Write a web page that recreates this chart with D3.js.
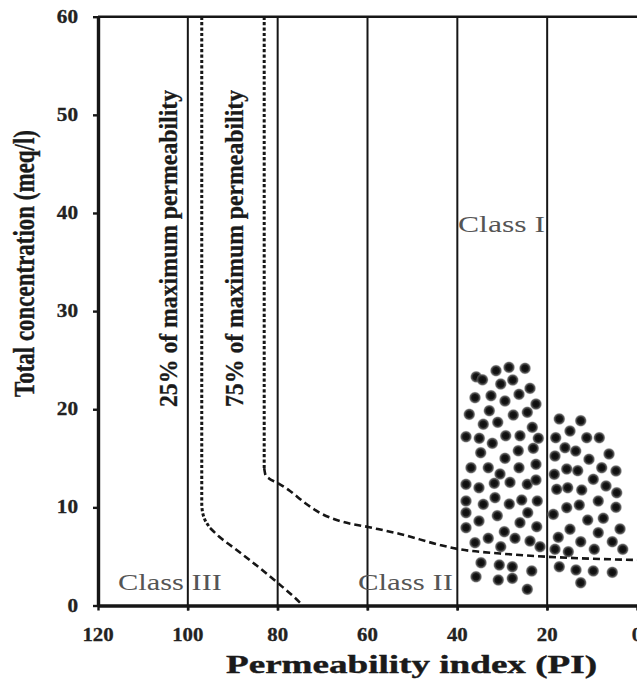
<!DOCTYPE html>
<html>
<head>
<meta charset="utf-8">
<script src="https://cdn.jsdelivr.net/npm/d3@7"></script>
<style>
  html, body { margin: 0; padding: 0; background: #fff; }
  svg { display: block; }
</style>
</head>
<body>
<svg id="chart" width="637" height="680"></svg>
<script>
// ---------- data ----------
const xTicks = [120, 100, 80, 60, 40, 20, 0];
const yTicks = [0, 10, 20, 30, 40, 50, 60];
const classBoundaries = [100, 80, 60, 40, 20];

const xTitle = "Permeability index (PI)";
const yTitle = "Total concentration (meq/l)";
const label25 = "25% of maximum permeability";
const label75 = "75% of maximum permeability";
const classNames = ["Class I", "Class II", "Class III"];

// 25% of maximum permeability curve: dotted vertical part, then dashed part  [PI, TC]
const curve25Dotted = [[96.9, 60], [96.9, 10.45], [96.73, 9.53], [96.17, 8.71], [95.06, 7.90]];
const curve25Dashed = [[95.06, 7.90], [93.06, 7.03], [89.72, 5.86], [86.38, 4.69], [83.04, 3.46],
  [79.70, 2.19], [76.36, 0.87], [74.4, 0]];
// 75% of maximum permeability curve
const curve75Dotted = [[83.0, 60], [83.0, 14.0]];
const curve75Dashed = [[83.0, 14.0], [82.71, 13.30], [81.93, 12.94], [80.15, 12.53], [77.25, 11.67],
  [73.91, 10.45], [70.57, 9.43], [66.12, 8.61], [59.88, 8.0], [52.76, 7.29], [43.86, 6.17],
  [39.85, 5.76], [30.5, 5.30], [20.04, 4.97], [8.24, 4.74], [0, 4.64]];

// Sample points: permeability index (PI) and total concentration (meq/l)
const samplePI = [
  35.8, 34.4, 31.39, 28.50, 24.93, 30.34, 27.67, 23.82, 36.07, 32.50, 29.39, 26.27, 22.49,
  37.34, 32.88, 27.54, 24.42, 34.22, 31.01, 23.31, 38.07, 35.11, 32.21, 29.23, 26.05, 21.97,
  34.80, 26.43, 23.09, 29.39, 36.96, 33.11, 26.27, 22.49, 30.50, 38.07, 35.18, 31.77, 28.27,
  24.42, 22.49, 38.07, 34.22, 31.61, 28.43, 25.67, 22.20, 38.07, 31.10, 24.33, 38.07, 35.18,
  26.05, 22.33, 29.54, 33.11, 27.16, 36.07, 23.82, 30.34, 21.60, 34.73, 30.66, 27.76, 23.44,
  35.84, 30.88, 27.76, 24.42,
  17.30, 12.53, 14.92, 18.10, 11.20, 8.39, 16.03, 13.65, 18.26, 10.69, 6.23, 15.65, 13.20,
  7.86, 18.41, 4.68, 9.73, 17.88, 15.43, 12.31, 6.90, 4.52, 15.65, 12.85, 8.62, 4.68, 18.63,
  10.98, 7.50, 14.92, 8.62, 3.78, 17.52, 12.53, 5.50, 18.26, 15.29, 9.51, 3.18, 17.30, 13.58,
  9.73, 5.50, 12.53
];
const sampleTC = [
  23.3, 23.0, 23.93, 24.27, 24.17, 22.57, 22.98, 22.13, 21.18, 21.38, 20.84, 21.52, 20.53,
  19.48, 19.85, 19.41, 19.69, 18.47, 18.67, 18.16, 17.20, 17.04, 16.53, 17.30, 17.30, 17.04,
  15.57, 15.77, 16.02, 15.00, 14.04, 14.04, 14.04, 14.39, 13.40, 12.35, 12.00, 12.45, 12.55,
  12.35, 12.79, 10.65, 10.31, 10.99, 10.34, 10.75, 10.65, 9.46, 9.15, 9.46, 7.93, 8.61,
  8.44, 8.03, 7.52, 6.85, 6.85, 6.40, 6.57, 5.99, 5.99, 4.36, 4.13, 3.95, 3.52,
  2.93, 2.60, 2.77, 1.65,
  19.01, 18.83, 17.78, 17.10, 17.10, 17.10, 16.08, 15.74, 15.23, 14.90, 15.44, 13.91, 13.74,
  14.04, 13.37, 13.71, 12.86, 11.84, 12.00, 11.77, 12.18, 11.49, 9.97, 10.24, 10.65, 10.01, 9.29,
  8.71, 8.89, 7.77, 7.42, 7.80, 6.95, 6.50, 6.50, 5.73, 5.48, 5.73, 5.73, 3.95, 3.62,
  3.52, 3.38, 2.32
];

// ---------- drawing ----------
const svg = d3.select("#chart");
const ink = "#161616";
const serif = "'Times New Roman', 'Liberation Serif', Times, serif";

const x = d3.scaleLinear().domain([120, 0]).range([98, 637]);
const y = d3.scaleLinear().domain([0, 60]).range([605.5, 16.7]);

// gradient for blurred dots
const defs = svg.append("defs");
const grad = defs.append("radialGradient").attr("id", "dotGrad");
grad.append("stop").attr("offset", "0%").attr("stop-color", "#0a0a0a");
grad.append("stop").attr("offset", "50%").attr("stop-color", "#171717");
grad.append("stop").attr("offset", "78%").attr("stop-color", "#4a4a4a").attr("stop-opacity", 0.85);
grad.append("stop").attr("offset", "100%").attr("stop-color", "#bbb").attr("stop-opacity", 0);

// class boundary vertical lines
svg.append("g").selectAll("line").data(classBoundaries).join("line")
  .attr("x1", d => x(d)).attr("x2", d => x(d))
  .attr("y1", y(60)).attr("y2", y(0) + 5)
  .attr("stroke", ink).attr("stroke-width", 2);

// top border
svg.append("line")
  .attr("x1", x(120)).attr("x2", x(0)).attr("y1", y(60)).attr("y2", y(60))
  .attr("stroke", ink).attr("stroke-width", 2.6);

// sample dots
svg.append("g").selectAll("circle").data(samplePI.map((p, i) => [p, sampleTC[i]])).join("circle")
  .attr("cx", d => x(d[0])).attr("cy", d => y(d[1]))
  .attr("r", 6.4).attr("fill", "url(#dotGrad)");

// permeability curves
const lineY = d3.line().x(d => x(d[0])).y(d => y(d[1])).curve(d3.curveMonotoneY);
const lineX = d3.line().x(d => x(d[0])).y(d => y(d[1])).curve(d3.curveMonotoneX);
[curve25Dotted, curve75Dotted].forEach(c => {
  svg.append("path").attr("d", lineY(c)).attr("fill", "none")
    .attr("stroke", ink).attr("stroke-width", 3).attr("stroke-dasharray", "3.2,2.2");
});
[curve25Dashed, curve75Dashed].forEach(c => {
  svg.append("path").attr("d", lineX(c)).attr("fill", "none")
    .attr("stroke", ink).attr("stroke-width", 2.6).attr("stroke-dasharray", "7,4");
});

// axes
const xAxis = svg.append("g").attr("transform", `translate(0,${y(0)})`)
  .call(d3.axisBottom(x).tickValues(xTicks).tickSize(5).tickSizeOuter(0).tickFormat(""));
const yAxis = svg.append("g").attr("transform", `translate(${x(120)},0)`)
  .call(d3.axisLeft(y).tickValues(yTicks).tickSize(5).tickSizeOuter(0).tickFormat(""));
[xAxis, yAxis].forEach(g => {
  g.select(".domain").attr("stroke", ink).attr("stroke-width", 3.4);
  g.selectAll(".tick line").attr("stroke", ink).attr("stroke-width", 2.4);
});

// tick labels
svg.append("g").selectAll("text").data(xTicks).join("text")
  .attr("x", d => x(d)).attr("y", 641)
  .attr("text-anchor", "middle")
  .attr("font-family", serif).attr("font-weight", "bold").attr("font-size", 18)
  .attr("fill", "#222").attr("stroke", "#222").attr("stroke-width", 0.3)
  .attr("textLength", d => String(d).length * 10.4).attr("lengthAdjust", "spacingAndGlyphs")
  .text(d => d);
svg.append("g").selectAll("text").data(yTicks).join("text")
  .attr("x", 78).attr("y", d => y(d) + 6)
  .attr("text-anchor", "end")
  .attr("font-family", serif).attr("font-weight", "bold").attr("font-size", 18)
  .attr("fill", "#222").attr("stroke", "#222").attr("stroke-width", 0.3)
  .attr("textLength", d => String(d).length * 10.6).attr("lengthAdjust", "spacingAndGlyphs")
  .text(d => d);

// axis titles
svg.append("text")
  .attr("x", 226).attr("y", 673)
  .attr("font-family", serif).attr("font-weight", "bold").attr("font-size", 25)
  .attr("fill", "#1a1a1a").attr("stroke", "#1a1a1a").attr("stroke-width", 0.4)
  .attr("textLength", 371).attr("lengthAdjust", "spacingAndGlyphs")
  .text(xTitle);
svg.append("text")
  .attr("transform", "translate(34,397) rotate(-90)")
  .attr("font-family", serif).attr("font-weight", "bold").attr("font-size", 29)
  .attr("fill", "#1a1a1a").attr("stroke", "#1a1a1a").attr("stroke-width", 0.4)
  .attr("textLength", 267).attr("lengthAdjust", "spacingAndGlyphs")
  .text(yTitle);

// curve labels
[[label25, 177], [label75, 243]].forEach(([t, bx]) => {
  svg.append("text")
    .attr("transform", `translate(${bx},407) rotate(-90)`)
    .attr("font-family", serif).attr("font-weight", "bold").attr("font-size", 26)
    .attr("fill", "#1a1a1a").attr("stroke", "#1a1a1a").attr("stroke-width", 0.3)
    .attr("textLength", 317).attr("lengthAdjust", "spacingAndGlyphs")
    .text(t);
});

// class labels
const classPos = [[458, 232, 87], [358, 590, 95], [118, 590, 104]];
classNames.forEach((n, i) => {
  const [cx, cy, w] = classPos[i];
  svg.append("text")
    .attr("x", cx).attr("y", cy)
    .attr("font-family", serif).attr("font-size", 23)
    .attr("fill", "#555")
    .attr("textLength", w).attr("lengthAdjust", "spacingAndGlyphs")
    .text(n);
});
</script>
</body>
</html>
